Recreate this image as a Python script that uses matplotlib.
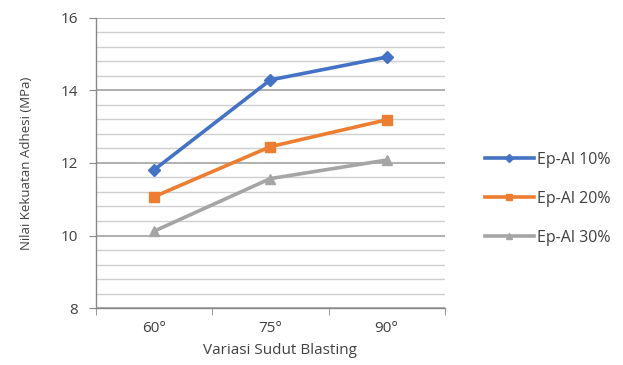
import matplotlib
matplotlib.use("Agg")
import matplotlib.pyplot as plt
from matplotlib.ticker import MultipleLocator

angles = ["60°", "75°", "90°"]
ep10 = [11.81, 14.29, 14.92]
ep20 = [11.07, 12.45, 13.19]
ep30 = [10.12, 11.57, 12.08]

plt.rcParams["font.family"] = ["Open Sans", "DejaVu Sans"]

fig = plt.figure(figsize=(6.23, 3.65), dpi=100)
ax = fig.add_axes([0.154, 0.156, 0.560, 0.795])

x = range(len(angles))
ax.plot(x, ep10, color="#4472C4", lw=2.6, marker="D", ms=6, label="Ep-Al 10%")
ax.plot(x, ep20, color="#ED7D31", lw=2.6, marker="s", ms=7.5, label="Ep-Al 20%")
ax.plot(x, ep30, color="#A5A5A5", lw=2.6, marker="^", ms=7.5, label="Ep-Al 30%")

ax.set_xlim(-0.5, 2.5)
ax.set_ylim(8, 16)
ax.set_xticks(list(x))
ax.set_xticklabels(angles)
ax.set_xticks([-0.5, 0.5, 1.5, 2.5], minor=True)
ax.tick_params(axis="x", which="major", length=0, pad=9, labelsize=11, colors="#404040")
ax.tick_params(axis="x", which="minor", length=5, color="#888888")
ax.yaxis.set_major_locator(MultipleLocator(2))
ax.yaxis.set_minor_locator(MultipleLocator(0.4))
ax.tick_params(axis="y", which="major", length=5, pad=8, labelsize=11, colors="#404040")
ax.tick_params(axis="y", which="major", color="#888888")
ax.tick_params(axis="y", which="minor", length=0)
ax.grid(axis="y", which="major", color="#9a9a9a", lw=1.1)
ax.grid(axis="y", which="minor", color="#cfcfcf", lw=1.0)
ax.set_axisbelow(True)

for s in ["top", "right"]:
    ax.spines[s].set_visible(False)
for s in ["left", "bottom"]:
    ax.spines[s].set_color("#888888")
    ax.spines[s].set_linewidth(1.0)

ax.set_xlabel("Variasi Sudut Blasting", fontsize=11, color="#404040", labelpad=5)
ax.xaxis.label.set_x(0.527)
ax.set_ylabel("Nilai Kekuatan Adhesi (MPa)", fontsize=9.5, color="#404040", labelpad=20)

leg = fig.legend(loc="center left", bbox_to_anchor=(0.755, 0.455), frameon=False,
                 fontsize=11.5, labelspacing=1.45, handlelength=3.1, handletextpad=0.15,
                 markerscale=0.65)
for t in leg.get_texts():
    t.set_color("#404040")

fig.savefig("out.png", dpi=100)
